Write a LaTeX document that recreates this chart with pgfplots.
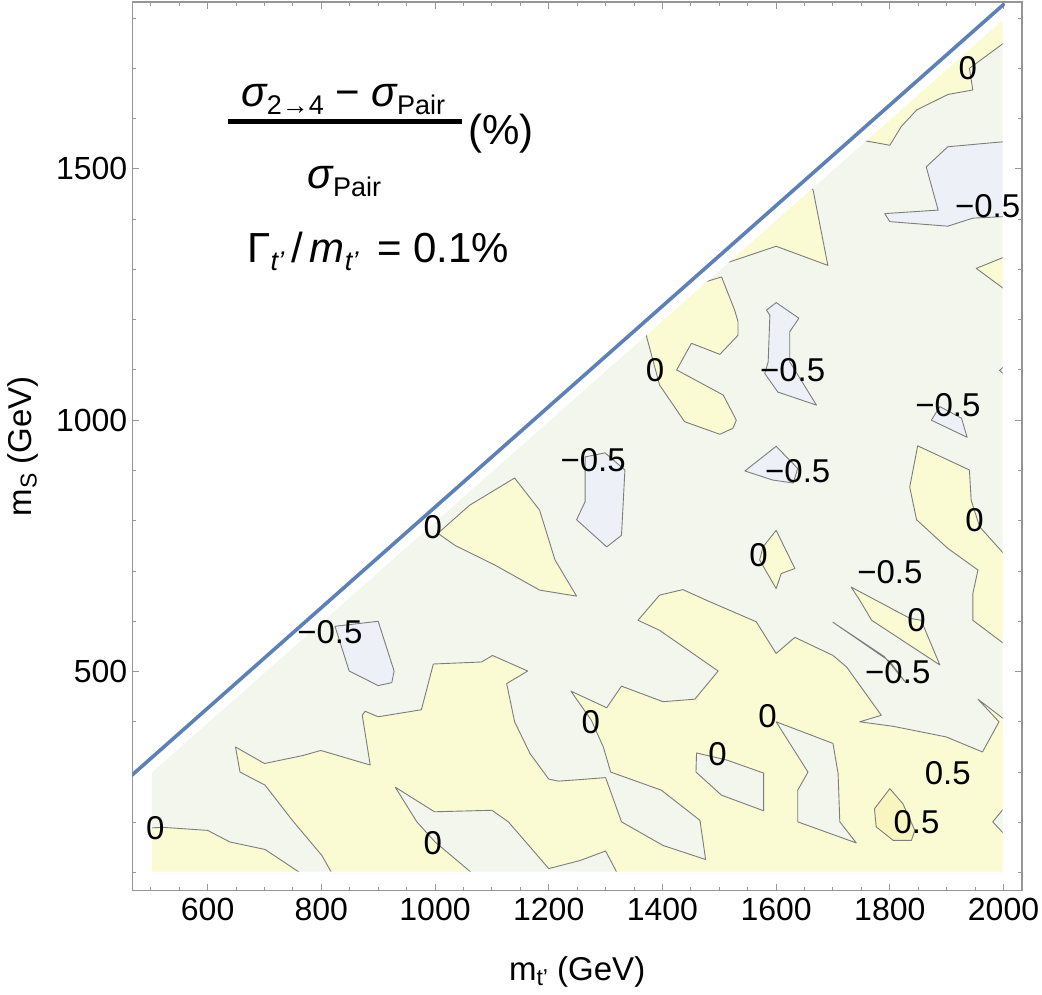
\documentclass[border=0pt]{standalone}
\usepackage{pgfplots}
\pgfplotsset{compat=1.18}
\usepackage{fontspec}
\setmainfont{Liberation Sans}
\definecolor{cbase}{RGB}{243,246,237}
\definecolor{cyel}{RGB}{250,250,211}
\definecolor{cdyel}{RGB}{249,245,190}
\definecolor{cblue}{RGB}{237,241,247}
\definecolor{cline}{RGB}{125,125,125}
\definecolor{mblue}{RGB}{94,129,181}
\definecolor{framegray}{RGB}{150,150,150}
\pgfplotsset{cfill/.style={fill=#1, draw=cline, line width=0.45pt, line join=round}}
\newcommand\lsub[1]{\raisebox{-4pt}{\fontsize{13.5}{14}\selectfont #1}}
\newcommand\asub[1]{\raisebox{-2.5pt}{\fontsize{11.5}{12}\selectfont #1}}
\begin{document}
\begin{tikzpicture}
\begin{axis}[
  at={(0pt,0pt)}, anchor=south west,
  width=444.85pt, height=444.35pt, scale only axis,
  xmin=467.5, xmax=2032.5, ymin=64, ymax=1832,
  axis line style={draw=framegray, line width=0.55pt},
  tick style={draw=framegray, line width=0.5pt},
  tick align=inside,
  major tick length=3.5pt, minor tick length=2pt,
  xtick={600,800,1000,1200,1400,1600,1800,2000},
  xticklabels={600,800,1000,1200,1400,1600,1800,2000},
  ytick={500,1000,1500}, yticklabels={500,1000,1500},
  minor xtick={500,550,...,2000},
  minor ytick={100,200,...,1800},
  ticklabel style={font=\fontsize{16}{19}\selectfont},
  xticklabel style={yshift=0pt},
  yticklabel style={xshift=1pt},
  xlabel={m\asub{t'} (GeV)},
  ylabel={m\asub{S} (GeV)},
  xlabel style={at={(axis description cs:0.5,0)}, anchor=center, yshift=-40.6pt, font=\fontsize{16.5}{20}\selectfont},
  ylabel style={at={(axis description cs:0,0.5)}, anchor=center, yshift=54.6pt, font=\fontsize{16.5}{20}\selectfont},
]
% domain
\addplot[fill=cbase, draw=none] coordinates {(500,100)(2000,100)(2000,1800)(500,300)} -- cycle;
% yellow regions (0 to 0.5)
\addplot[cfill=cyel] coordinates {(500,100)(500,189)(522,190)(600,184)(639,161)(701,146)(762,100)} -- cycle;
\addplot[cfill=cyel] coordinates {(818,100)(801,134)(749,204)(701,274)(657,300)(649,350)(700,317)(768,333)(799,343)(886,314)(872,413)(877,421)(900,410)(976,424)(997,515)(1082,519)(1101,532)(1163,501)(1126,476)(1140,400)(1167,337)(1200,286)(1217,282)(1255,285)(1300,289)(1328,201)(1401,154)(1476,126)(1466,204)(1398,264)(1309,300)(1296,350)(1275,403)(1239,461)(1302,428)(1328,471)(1401,440)(1457,445)(1498,501)(1395,582)(1357,602)(1395,652)(1436,663)(1477,642)(1565,599)(1600,536)(1633,568)(1700,532)(1724,509)(1785,413)(1747,400)(1806,391)(1899,370)(1963,340)(1992,400)(1955,445)(2000,406)(2000,100)(1320,100)(1300,143)(1255,124)(1200,108)(1129,201)(1100,224)(999,221)(930,270)(968,201)(1000,161)(1064,100)} -- cycle;
% gray inclusions
\addplot[cfill=cbase] coordinates {(1460,338)(1513,324)(1578,298)(1578,223)(1504,254)(1459,300)} -- cycle;
\addplot[cfill=cbase] coordinates {(1600,400)(1700,357)(1709,297)(1712,201)(1741,159)(1638,201)(1638,264)(1656,300)} -- cycle;
\addplot[cfill=cbase] coordinates {(2000,227)(1981,201)(2000,178)} -- cycle;
% above 0.5
\addplot[cfill=cdyel] coordinates {(1800,267)(1823,237)(1844,184)(1838,164)(1806,164)(1776,191)(1773,227)} -- cycle;
% other yellow
\addplot[cfill=cyel] coordinates {(1756,1556)(1800,1547)(1820,1584)(1847,1617)(1902,1648)(1946,1657)(1940,1700)(2000,1750)(2000,1800)} -- cycle;
\addplot[cfill=cyel] coordinates {(2000,1324)(1952,1302)(2000,1262)} -- cycle;
\addplot[cfill=cyel] coordinates {(1513,1313)(1600,1346)(1691,1308)(1665,1458)(1662,1462)} -- cycle;
\addplot[cfill=cyel] coordinates {(1475,1275)(1504,1285)(1527,1219)(1533,1196)(1533,1169)(1501,1131)(1451,1153)(1425,1100)(1507,1050)(1530,1000)(1524,984)(1501,972)(1439,997)(1395,1070)(1371,1171)} -- cycle;
\addplot[cfill=cyel] coordinates {(1577,748)(1600,781)(1633,705)(1609,695)(1600,665)(1571,722)} -- cycle;
\addplot[cfill=cyel] coordinates {(2000,735)(1958,788)(1943,841)(1940,901)(1849,949)(1835,867)(1847,802)(1902,745)(1955,702)(1946,655)(1946,602)(2000,556)} -- cycle;
\addplot[cfill=cyel] coordinates {(1732,668)(1747,642)(1768,602)(1888,513)(1855,602)(1835,606)} -- cycle;
\addplot[cfill=cyel] coordinates {(1005,775)(1061,831)(1140,885)(1184,821)(1211,722)(1249,650)(1184,662)(1105,712)(1035,751)} -- cycle;
% blue regions (below -0.5)
\addplot[cfill=cblue] coordinates {(824,590)(900,600)(928,501)(924,478)(900,472)(849,501)} -- cycle;
\addplot[cfill=cblue] coordinates {(2000,1554)(1902,1544)(1864,1504)(1885,1418)(1791,1411)(1800,1395)(1902,1386)(1946,1402)(2000,1405)} -- cycle;
\addplot[cfill=cblue] coordinates {(1583,1219)(1600,1234)(1640,1203)(1624,1176)(1624,1116)(1671,1030)(1603,1056)(1580,1093)(1586,1116)(1589,1209)} -- cycle;
\addplot[cfill=cblue] coordinates {(1873,1000)(1888,1027)(1926,1004)(1936,966)} -- cycle;
\addplot[cfill=cblue] coordinates {(1545,899)(1600,948)(1638,904)(1630,875)(1594,881)} -- cycle;
\addplot[cfill=cblue] coordinates {(1264,927)(1299,935)(1334,901)(1328,771)(1302,748)(1249,802)(1264,838)} -- cycle;
\addplot[cfill=cblue] coordinates {(1700,598)(1790,530)(1828,478)(1800,520)} -- cycle;
\addplot[cfill=cblue] coordinates {(2000,1106)(1993,1099)(2000,1092)} -- cycle;
% domain edge
\addplot[white, line width=1pt] coordinates {(500,300)(500,100)(2000,100)(2000,1800)} -- cycle;
% kinematic line
\addplot[mblue, line width=1.8pt, line cap=round] coordinates {(400,227)(2000,1827)};
% contour labels
\begin{scope}[every node/.style={font=\fontsize{16.5}{20}\selectfont, inner sep=0pt}]
\node at (axis cs:1937,1701) {0};
\node at (axis cs:1972,1426) {−0.5};
\node at (axis cs:1387,1100) {0};
\node at (axis cs:1629,1100) {−0.5};
\node at (axis cs:1902,1030) {−0.5};
\node at (axis cs:1278,921) {−0.5};
\node at (axis cs:1638,899) {−0.5};
\node at (axis cs:996,787) {0};
\node at (axis cs:1949,801) {0};
\node at (axis cs:1569,731) {0};
\node at (axis cs:1800,698) {−0.5};
\node at (axis cs:815,578) {−0.5};
\node at (axis cs:1847,602) {0};
\node at (axis cs:1814,499) {−0.5};
\node at (axis cs:1274,399) {0};
\node at (axis cs:1585,411) {0};
\node at (axis cs:1497,335) {0};
\node at (axis cs:1902,298) {0.5};
\node at (axis cs:1847,200) {0.5};
\node at (axis cs:508,188) {0};
\node at (axis cs:996,158) {0};
\end{scope}
\end{axis}
% annotation
\begin{scope}[every node/.style={font=\fontsize{21}{25}\selectfont, inner sep=0pt}]
\node[anchor=base] at (105.5pt,391.85pt) {{\itshape σ}\lsub{2→4} − {\itshape σ}\lsub{Pair}};
\draw[line width=2.5pt] (47.85pt,384.5pt) -- (164.85pt,384.5pt);
\node[anchor=base] at (106.1pt,351.2pt) {{\itshape σ}\lsub{Pair}};
\node[anchor=base west] at (167.85pt,373.1pt) {(\%)};
\node[anchor=base] at (123pt,313.85pt) {Γ\lsub{\itshape t'}\,/\,{\itshape m}\lsub{\itshape t'}\, = 0.1\%};
\end{scope}
\pgfresetboundingbox
\path (-66.15pt,-51.65pt) rectangle (454.85pt,445.35pt);
\end{tikzpicture}
\end{document}
